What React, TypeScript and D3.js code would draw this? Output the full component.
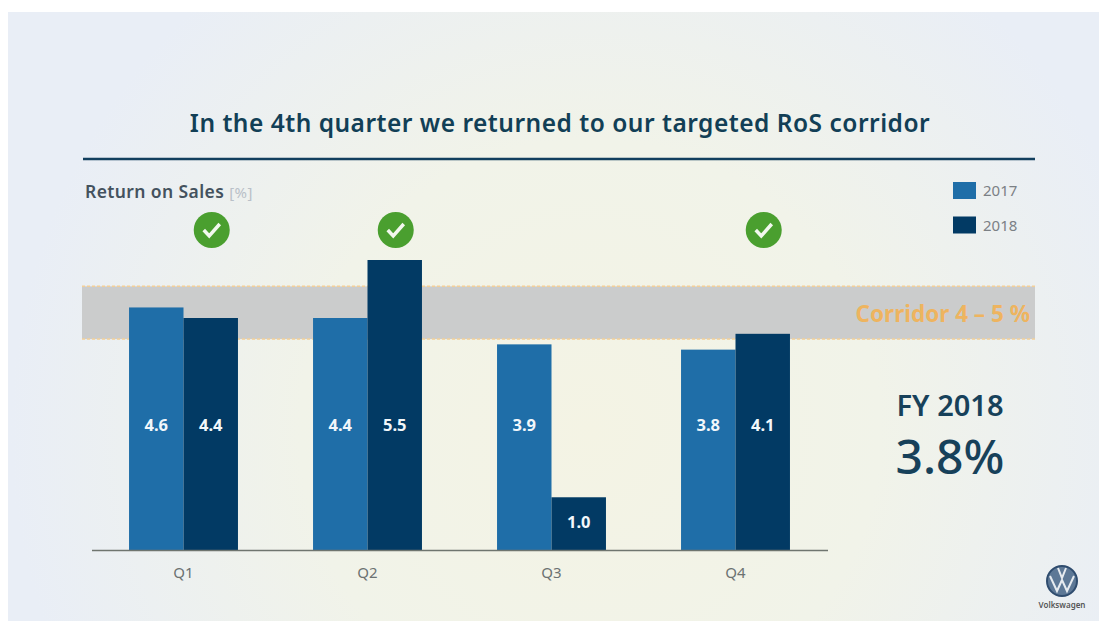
import React, { useRef, useEffect } from "react";
import * as d3 from "d3";

const quarters = ["Q1", "Q2", "Q3", "Q4"];
const years = ["2017", "2018"];
const values2017 = [4.6, 4.4, 3.9, 3.8];
const values2018 = [4.4, 5.5, 1.0, 4.1];
const corridor = [4, 5];
const checked = ["Q1", "Q2", "Q4"];

const W = 1099;
const H = 621;
const font = "'Noto Sans', sans-serif";
const yearColor = { "2017": "#1f6ea8", "2018": "#023a64" };

const App = () => {
  const svgRef = useRef<SVGSVGElement>(null);

  useEffect(() => {
    const svg = d3.select(svgRef.current);
    svg.selectAll("*").remove();

    const x0 = d3
      .scaleBand()
      .domain(quarters)
      .range([91.5, 827.5])
      .paddingInner(0.408)
      .paddingOuter(0.204);
    const x1 = d3.scaleBand().domain(years).range([0, x0.bandwidth()]);
    const y = d3.scaleLinear().domain([0, 5.5]).range([550, 260]);

    // slide background
    const defs = svg.append("defs");
    const glow = defs
      .append("radialGradient")
      .attr("id", "glow")
      .attr("gradientUnits", "userSpaceOnUse")
      .attr("cx", 590)
      .attr("cy", 430)
      .attr("r", 580);
    glow.append("stop").attr("offset", "0%").attr("stop-color", "#f4f3e4");
    glow.append("stop").attr("offset", "50%").attr("stop-color", "#f1f3e9");
    glow.append("stop").attr("offset", "100%").attr("stop-color", "#e9eef6");

    svg.append("rect").attr("width", W).attr("height", H).attr("fill", "#fff");
    svg
      .append("rect")
      .attr("x", 8)
      .attr("y", 12)
      .attr("width", W - 8)
      .attr("height", H - 12)
      .attr("fill", "url(#glow)");

    svg
      .append("text")
      .attr("x", 560)
      .attr("y", 132)
      .attr("text-anchor", "middle")
      .attr("font-family", font)
      .attr("font-size", 24.5)
      .attr("font-weight", 600)
      .attr("letter-spacing", 0.5)
      .attr("fill", "#123f56")
      .text("In the 4th quarter we returned to our targeted RoS corridor");

    svg
      .append("line")
      .attr("x1", 83)
      .attr("x2", 1035)
      .attr("y1", 159)
      .attr("y2", 159)
      .attr("stroke", "#123f5e")
      .attr("stroke-width", 2.5);

    const unit = svg
      .append("text")
      .attr("x", 85)
      .attr("y", 198)
      .attr("font-family", font)
      .attr("font-size", 17.5)
      .attr("font-weight", 600)
      .attr("letter-spacing", 0.4)
      .attr("fill", "#44525e");
    unit.append("tspan").text("Return on Sales ");
    unit
      .append("tspan")
      .attr("font-size", 15)
      .attr("font-weight", 400)
      .attr("fill", "#b9c0c8")
      .text("[%]");

    // corridor band
    svg
      .append("rect")
      .attr("x", 82)
      .attr("width", 953)
      .attr("y", y(corridor[1]))
      .attr("height", y(corridor[0]) - y(corridor[1]))
      .attr("fill", "#cbcccc");
    svg
      .selectAll(".edge")
      .data(corridor)
      .enter()
      .append("line")
      .attr("x1", 82)
      .attr("x2", 1035)
      .attr("y1", (d) => y(d))
      .attr("y2", (d) => y(d))
      .attr("stroke", "#f3cf98")
      .attr("stroke-width", 1.5)
      .attr("stroke-dasharray", "3 2");
    svg
      .append("text")
      .attr("x", 1030)
      .attr("y", 322)
      .attr("text-anchor", "end")
      .attr("font-family", font)
      .attr("font-size", 22.5)
      .attr("font-weight", 700)
      .attr("fill", "#eeb45f")
      .text(`Corridor ${corridor[0]} – ${corridor[1]} %`);

    // bars
    const groups = svg
      .selectAll(".quarter")
      .data(quarters)
      .enter()
      .append("g")
      .attr("transform", (d) => `translate(${x0(d)},0)`);

    const rows = (q: string, i: number) => [
      { year: "2017", value: values2017[i] },
      { year: "2018", value: values2018[i] },
    ];

    groups
      .selectAll("rect")
      .data(rows)
      .enter()
      .append("rect")
      .attr("x", (d) => x1(d.year))
      .attr("width", x1.bandwidth())
      .attr("y", (d) => y(d.value))
      .attr("height", (d) => y(0) - y(d.value))
      .attr("fill", (d) => yearColor[d.year]);

    groups
      .selectAll("text")
      .data(rows)
      .enter()
      .append("text")
      .attr("x", (d) => x1(d.year) + x1.bandwidth() / 2)
      .attr("y", (d) => (d.value < 2 ? 528 : 431))
      .attr("text-anchor", "middle")
      .attr("font-family", font)
      .attr("font-size", 16.5)
      .attr("font-weight", 700)
      .attr("fill", "#f2f7fb")
      .text((d) => d.value.toFixed(1));

    // axis
    const axis = svg
      .append("g")
      .attr("transform", `translate(0,${y(0)})`)
      .call(d3.axisBottom(x0).tickSize(0).tickPadding(17));
    axis.select(".domain").attr("stroke", "#6f756f").attr("stroke-width", 1.5);
    axis
      .selectAll("text")
      .attr("font-family", font)
      .attr("font-size", 15)
      .attr("fill", "#6c7272");

    // check marks sit above the 2018 bar
    const checks = svg
      .selectAll(".check")
      .data(checked)
      .enter()
      .append("g")
      .attr(
        "transform",
        (d) => `translate(${x0(d) + x1("2018") + x1.bandwidth() / 2 + 1},230)`
      );
    checks.append("circle").attr("r", 18).attr("fill", "#4a9f2f");
    checks
      .append("path")
      .attr("d", "M-8,0 L-2.5,6 L8,-6")
      .attr("fill", "none")
      .attr("stroke", "#f2f8ee")
      .attr("stroke-width", 3.5);

    // legend
    const legend = svg
      .selectAll(".legend")
      .data(years)
      .enter()
      .append("g")
      .attr("transform", (d, i) => `translate(953,${182 + i * 34.5})`);
    legend
      .append("rect")
      .attr("width", 23)
      .attr("height", 17)
      .attr("fill", (d) => yearColor[d]);
    legend
      .append("text")
      .attr("x", 30)
      .attr("y", 14)
      .attr("font-family", font)
      .attr("font-size", 15)
      .attr("fill", "#7b8085")
      .text((d) => d);

    // full year callout
    svg
      .append("text")
      .attr("x", 950)
      .attr("y", 416)
      .attr("text-anchor", "middle")
      .attr("font-family", font)
      .attr("font-size", 29)
      .attr("font-weight", 600)
      .attr("fill", "#17415a")
      .text("FY 2018");
    svg
      .append("text")
      .attr("x", 950)
      .attr("y", 474)
      .attr("text-anchor", "middle")
      .attr("font-family", font)
      .attr("font-size", 48)
      .attr("font-weight", 500)
      .attr("fill", "#17415a")
      .text("3.8%");

    // logo
    const logo = svg.append("g").attr("transform", "translate(1062,581)");
    logo
      .append("circle")
      .attr("r", 15)
      .attr("fill", "#5d7896")
      .attr("stroke", "#2f4c6e")
      .attr("stroke-width", 2);
    logo
      .append("path")
      .attr("d", "M-4,-13 L0,-3 L4,-13 M-12,-5 L-5,10 L0,-1 L5,10 L12,-5")
      .attr("fill", "none")
      .attr("stroke", "#e6ebf0")
      .attr("stroke-width", 2);
    logo
      .append("text")
      .attr("y", 27)
      .attr("text-anchor", "middle")
      .attr("font-family", font)
      .attr("font-size", 8)
      .attr("font-weight", 600)
      .attr("fill", "#555")
      .text("Volkswagen");
  }, []);

  return (
    <svg
      ref={svgRef}
      width={W}
      height={H}
      style={{ position: "absolute", left: 0, top: 0 }}
    ></svg>
  );
};

export default App;
